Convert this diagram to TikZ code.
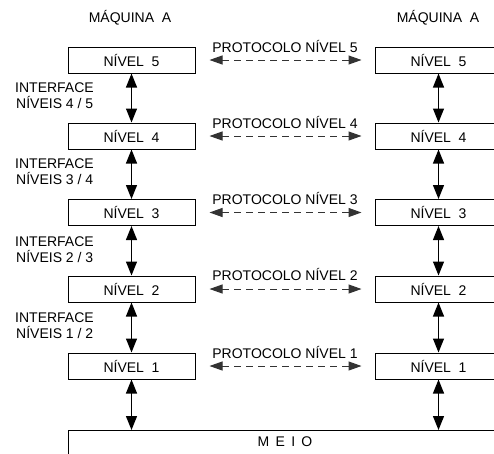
\documentclass[tikz,border=0pt]{standalone}
\usepackage{fontspec}
\setmainfont{Liberation Sans}
\usetikzlibrary{arrows.meta}
\begin{document}
\begin{tikzpicture}[x=1pt,y=-1pt,
  every node/.style={font=\fontsize{14}{16}\selectfont, inner sep=0pt},
  layer/.style={draw, line width=1pt, minimum width=127pt, minimum height=26pt},
  vlink/.style={line width=1.2pt, {Triangle[length=14pt,width=11pt]}-{Triangle[length=14pt,width=11pt]}},
  plink/.style={line width=1pt, black!80, dash pattern=on 7pt off 5pt, {Triangle[length=13pt,width=9pt]}-{Triangle[length=13pt,width=9pt]}},
  lbl/.style={anchor=west, align=left}]
\useasboundingbox (0,0) rectangle (494,453);
\clip (0,0) rectangle (494,453);
\fill[white] (0,0) rectangle (494,453);
% headers
\node (ha) at (130,18) {MÁQUINA\hspace{0.55em}A};
\node (hb) at (438,18) {MÁQUINA\hspace{0.55em}A};
% left stack
\node[layer] (l5) at (131.5,60)  {NÍVEL\hspace{0.55em}5};
\node[layer] (l4) at (131.5,136) {NÍVEL\hspace{0.55em}4};
\node[layer] (l3) at (131.5,212.5) {NÍVEL\hspace{0.55em}3};
\node[layer] (l2) at (131.5,289) {NÍVEL\hspace{0.55em}2};
\node[layer] (l1) at (131.5,366) {NÍVEL\hspace{0.55em}1};
% right stack
\node[layer] (r5) at (438.5,60)  {NÍVEL\hspace{0.55em}5};
\node[layer] (r4) at (438.5,136) {NÍVEL\hspace{0.55em}4};
\node[layer] (r3) at (438.5,212.5) {NÍVEL\hspace{0.55em}3};
\node[layer] (r2) at (438.5,289) {NÍVEL\hspace{0.55em}2};
\node[layer] (r1) at (438.5,366) {NÍVEL\hspace{0.55em}1};
% medium
\draw[line width=1pt] (68,460) -- (68,430) -- (502,430) -- (502,460);
\coordinate (mtl) at (131.5,430);
\coordinate (mtr) at (438.5,430);
\node (meio) at (285,442) {M\hspace{0.45em}E\hspace{0.45em}I\hspace{0.45em}O};
% vertical interfaces
\draw[vlink] (l5.south) -- (l4.north);
\draw[vlink] (l4.south) -- (l3.north);
\draw[vlink] (l3.south) -- (l2.north);
\draw[vlink] (l2.south) -- (l1.north);
\draw[vlink] (l1.south) -- (mtl);
\draw[vlink] (r5.south) -- (r4.north);
\draw[vlink] (r4.south) -- (r3.north);
\draw[vlink] (r3.south) -- (r2.north);
\draw[vlink] (r2.south) -- (r1.north);
\draw[vlink] (r1.south) -- (mtr);
% protocols
\foreach \n in {5,4,3,2,1}{
  \draw[plink] ([xshift=14pt]l\n.east) -- ([xshift=-13pt]r\n.west);
}
\node (p5) at (285,46)  {PROTOCOLO NÍVEL 5};
\node (p4) at (285,122) {PROTOCOLO NÍVEL 4};
\node (p3) at (285,198) {PROTOCOLO NÍVEL 3};
\node (p2) at (285,274) {PROTOCOLO NÍVEL 2};
\node (p1) at (285,352) {PROTOCOLO NÍVEL 1};
% interface labels
\node[lbl] (i45) at (15,96)  {INTERFACE\\[0pt]\hspace{1pt}NÍVEIS 4 / 5};
\node[lbl] (i34) at (15,172) {INTERFACE\\[0pt]\hspace{1pt}NÍVEIS 3 / 4};
\node[lbl] (i23) at (15,250) {INTERFACE\\[0pt]\hspace{1pt}NÍVEIS 2 / 3};
\node[lbl] (i12) at (15,326) {INTERFACE\\[0pt]\hspace{1pt}NÍVEIS 1 / 2};
\end{tikzpicture}
\end{document}
